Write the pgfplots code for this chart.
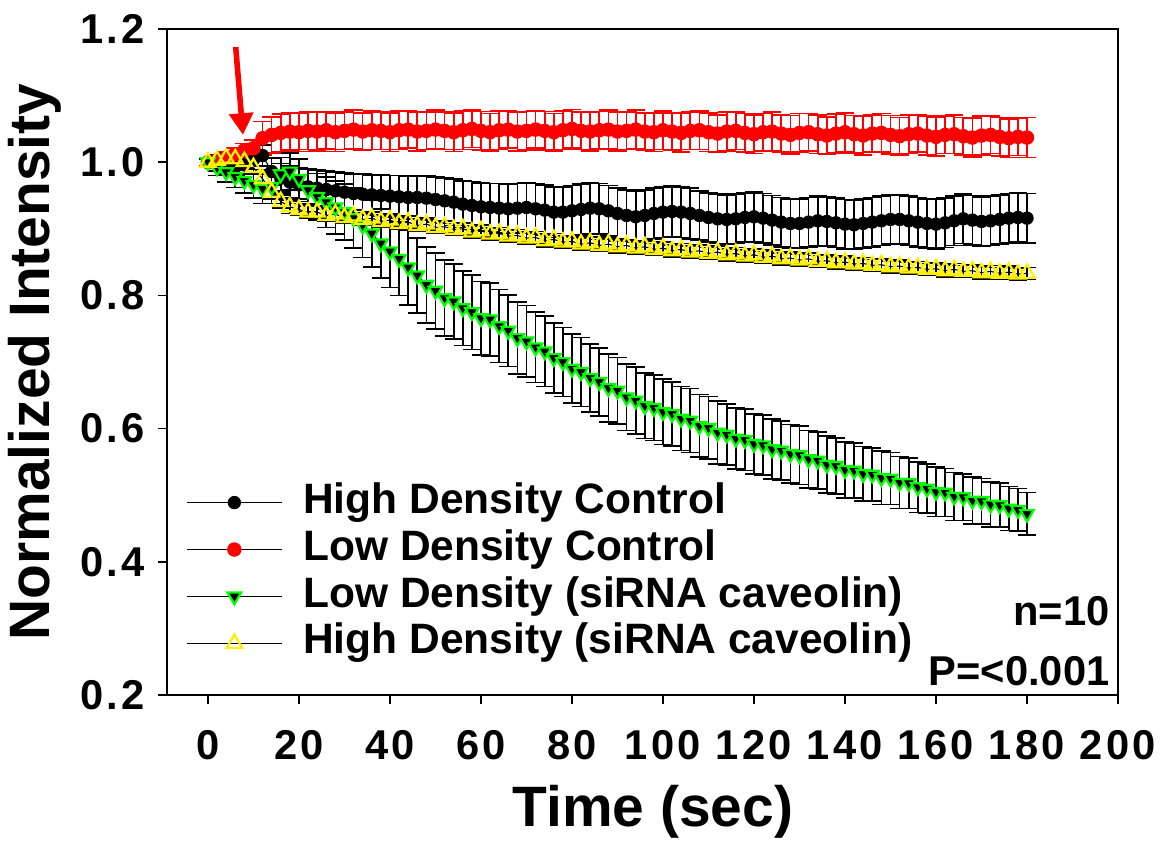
\documentclass[border=0pt]{standalone}
\usepackage{pgfplots}
\pgfplotsset{compat=1.18}
\usepackage{pgfplotstable}
\usepackage{fontspec}
\setmainfont{Liberation Sans}
\newfontfamily\tickfont[LetterSpace=8]{Liberation Sans}
\usetikzlibrary{arrows.meta}

% t, high density control, low density control, low density siRNA, high density siRNA (value + error)
\pgfplotstableread{
t   hdc   hdce  ldc   ldce  lds   ldse  hds   hdse
0   1.000 0.005 1.000 0.005 1.000 0.005 1.000 0.005
2   0.997 0.010 1.003 0.008 0.992 0.012 1.003 0.008
4   0.994 0.012 1.007 0.008 0.985 0.015 1.006 0.008
6   0.993 0.013 1.012 0.009 0.978 0.016 1.005 0.008
8   0.996 0.014 1.018 0.010 0.972 0.018 1.001 0.009
10  1.004 0.015 1.021 0.012 0.966 0.020 0.992 0.010
12  1.010 0.016 1.036 0.025 0.960 0.022 0.975 0.010
14  0.986 0.020 1.041 0.027 0.963 0.025 0.955 0.010
16  0.976 0.022 1.044 0.028 0.982 0.025 0.941 0.010
18  0.970 0.024 1.046 0.028 0.986 0.028 0.933 0.010
20  0.966 0.025 1.045 0.029 0.975 0.030 0.929 0.009
22  0.963 0.026 1.047 0.028 0.958 0.032 0.925 0.009
24  0.961 0.027 1.046 0.029 0.948 0.035 0.925 0.009
26  0.959 0.028 1.048 0.028 0.940 0.038 0.920 0.009
28  0.957 0.028 1.045 0.029 0.932 0.040 0.922 0.009
30  0.955 0.029 1.047 0.028 0.925 0.042 0.917 0.009
32  0.953 0.029 1.049 0.029 0.916 0.045 0.919 0.009
34  0.952 0.030 1.046 0.028 0.905 0.048 0.914 0.009
36  0.951 0.030 1.048 0.029 0.893 0.050 0.916 0.009
38  0.950 0.031 1.047 0.028 0.878 0.052 0.911 0.009
40  0.949 0.031 1.045 0.029 0.866 0.054 0.913 0.009
42  0.948 0.032 1.048 0.029 0.855 0.055 0.908 0.009
44  0.947 0.032 1.049 0.028 0.842 0.056 0.910 0.009
46  0.947 0.033 1.046 0.029 0.830 0.056 0.905 0.009
48  0.946 0.033 1.047 0.028 0.816 0.057 0.907 0.009
50  0.944 0.034 1.049 0.029 0.807 0.057 0.902 0.009
52  0.942 0.034 1.047 0.028 0.796 0.057 0.903 0.009
54  0.940 0.035 1.045 0.029 0.791 0.056 0.899 0.009
56  0.937 0.035 1.048 0.029 0.781 0.056 0.900 0.009
58  0.935 0.036 1.050 0.028 0.775 0.056 0.895 0.009
60  0.933 0.036 1.047 0.029 0.766 0.055 0.897 0.009
62  0.932 0.036 1.045 0.028 0.764 0.055 0.892 0.009
64  0.931 0.037 1.048 0.029 0.754 0.055 0.893 0.009
66  0.930 0.037 1.049 0.028 0.747 0.054 0.889 0.009
68  0.931 0.037 1.046 0.029 0.736 0.054 0.890 0.009
70  0.932 0.037 1.047 0.029 0.731 0.054 0.886 0.009
72  0.930 0.038 1.049 0.028 0.722 0.053 0.887 0.009
74  0.928 0.038 1.047 0.029 0.716 0.053 0.882 0.009
76  0.925 0.038 1.045 0.028 0.706 0.053 0.884 0.009
78  0.925 0.038 1.048 0.029 0.700 0.052 0.880 0.009
80  0.927 0.038 1.050 0.029 0.690 0.052 0.881 0.009
82  0.929 0.038 1.047 0.028 0.685 0.052 0.877 0.009
84  0.931 0.038 1.046 0.029 0.676 0.051 0.879 0.009
86  0.930 0.038 1.048 0.028 0.670 0.051 0.875 0.009
88  0.927 0.038 1.049 0.029 0.661 0.051 0.877 0.009
90  0.923 0.038 1.046 0.029 0.657 0.050 0.873 0.009
92  0.920 0.038 1.047 0.028 0.647 0.050 0.875 0.009
94  0.918 0.038 1.049 0.029 0.642 0.050 0.871 0.009
96  0.920 0.038 1.046 0.028 0.634 0.049 0.873 0.009
98  0.923 0.038 1.045 0.029 0.631 0.049 0.869 0.009
100 0.925 0.038 1.048 0.029 0.625 0.049 0.871 0.009
102 0.926 0.038 1.046 0.028 0.622 0.048 0.867 0.009
104 0.925 0.038 1.044 0.029 0.615 0.048 0.869 0.009
106 0.923 0.038 1.047 0.028 0.612 0.048 0.865 0.009
108 0.920 0.037 1.048 0.029 0.604 0.047 0.867 0.009
110 0.917 0.037 1.045 0.029 0.601 0.047 0.863 0.009
112 0.915 0.037 1.043 0.028 0.594 0.047 0.865 0.009
114 0.914 0.037 1.046 0.029 0.591 0.046 0.861 0.009
116 0.915 0.037 1.047 0.028 0.585 0.046 0.863 0.009
118 0.917 0.037 1.044 0.029 0.583 0.046 0.859 0.009
120 0.918 0.037 1.042 0.029 0.577 0.045 0.861 0.009
122 0.916 0.037 1.045 0.028 0.575 0.045 0.857 0.009
124 0.913 0.037 1.046 0.029 0.569 0.045 0.859 0.009
126 0.910 0.037 1.043 0.028 0.567 0.044 0.855 0.009
128 0.908 0.037 1.041 0.029 0.562 0.044 0.856 0.009
130 0.908 0.037 1.044 0.029 0.560 0.044 0.853 0.009
132 0.910 0.037 1.045 0.028 0.554 0.043 0.855 0.009
134 0.912 0.037 1.042 0.029 0.552 0.043 0.851 0.009
136 0.911 0.037 1.040 0.028 0.546 0.043 0.852 0.009
138 0.909 0.037 1.043 0.029 0.544 0.042 0.849 0.009
140 0.907 0.037 1.045 0.029 0.538 0.042 0.850 0.009
142 0.906 0.037 1.042 0.028 0.537 0.041 0.847 0.009
144 0.908 0.037 1.040 0.029 0.532 0.041 0.848 0.009
146 0.910 0.037 1.043 0.028 0.531 0.040 0.845 0.009
148 0.912 0.037 1.044 0.029 0.526 0.040 0.846 0.009
150 0.914 0.037 1.041 0.029 0.525 0.039 0.843 0.009
152 0.914 0.037 1.039 0.028 0.519 0.039 0.844 0.009
154 0.912 0.037 1.042 0.029 0.518 0.038 0.841 0.009
156 0.910 0.037 1.043 0.028 0.512 0.038 0.842 0.009
158 0.908 0.037 1.040 0.029 0.510 0.037 0.839 0.009
160 0.907 0.037 1.038 0.029 0.505 0.037 0.840 0.009
162 0.909 0.037 1.041 0.028 0.504 0.036 0.837 0.009
164 0.912 0.037 1.042 0.029 0.498 0.036 0.839 0.009
166 0.915 0.037 1.039 0.028 0.497 0.035 0.836 0.009
168 0.913 0.037 1.037 0.029 0.492 0.035 0.837 0.009
170 0.911 0.037 1.040 0.029 0.491 0.034 0.834 0.009
172 0.912 0.037 1.041 0.028 0.486 0.034 0.836 0.009
174 0.914 0.037 1.038 0.029 0.485 0.033 0.833 0.009
176 0.916 0.037 1.036 0.029 0.480 0.033 0.835 0.009
178 0.917 0.037 1.038 0.028 0.478 0.032 0.832 0.009
180 0.916 0.037 1.037 0.030 0.472 0.032 0.833 0.009
}\data

\begin{document}
\begin{tikzpicture}
\path[use as bounding box] (-60.12pt,-52.2pt) rectangle (359.28pt,250.2pt);
\begin{axis}[
    scale only axis,
    width=342.36pt, height=239.76pt,
    xmin=-9, xmax=200, ymin=0.2, ymax=1.2,
    xtick={0,20,...,200},
    ytick={0.2,0.4,0.6,0.8,1.0,1.2},
    yticklabel style={xshift=-1.2pt, /pgf/number format/fixed,
        /pgf/number format/fixed zerofill, /pgf/number format/precision=1},
    /pgf/number format/assume math mode=true,
    tick label style={font=\tickfont\bfseries\fontsize{15}{17}\selectfont},
    xticklabel style={yshift=-6pt},
    tick align=outside, xtick pos=bottom, ytick pos=left,
    major tick length=3.3pt,
    axis line style={line width=0.8pt},
    tick style={line width=0.6pt, black},
    xlabel={Time (sec)}, ylabel={Normalized Intensity},
    label style={font=\bfseries\fontsize{20.5}{24}\selectfont},
    xlabel style={at={(axis description cs:0.511,-0.197)}, anchor=base},
    ylabel style={at={(axis description cs:-0.139,0.5)}, anchor=center},
    legend cell align=left,
    legend style={draw=none, fill=none, inner sep=0pt,
        at={(axis description cs:0.02,0.325)}, anchor=north west,
        font=\bfseries\fontsize{15.3}{17}\selectfont, row sep=0pt,
        nodes={text height=10.6pt, text depth=3pt, inner ysep=1.65pt, inner xsep=3pt},
        /tikz/every odd column/.style={column sep=4.6pt}},
    legend image code/.code={\draw[mark repeat=2,mark phase=2] plot coordinates {(0pt,0pt) (17pt,0pt) (34pt,0pt)};},
    error bars/error mark options={rotate=90, black, mark size=3.3pt, line width=0.6pt},
]

\addplot[black, line width=0.4pt, mark=*, mark size=2.2pt, mark options={fill=black, draw=black},
    error bars/.cd, y dir=both, y explicit,
    error bar style={black, line width=0.6pt}]
    table[x=t, y=hdc, y error=hdce] {\data};
\addlegendentry{High Density Control}

\addplot[black, line width=0.4pt, mark=*, mark size=2.4pt, mark options={fill=red, draw=red},
    error bars/.cd, y dir=both, y explicit,
    error bar style={red, line width=0.6pt},
    error mark options={rotate=90, red, mark size=3.3pt, line width=0.6pt}]
    table[x=t, y=ldc, y error=ldce] {\data};
\addlegendentry{Low Density Control}

\addplot[black, line width=0.4pt, mark=triangle*, mark size=2.8pt,
    mark options={rotate=180, fill=black, draw=green, line width=0.8pt},
    error bars/.cd, y dir=both, y explicit,
    error bar style={black, line width=0.6pt}]
    table[x=t, y=lds, y error=ldse] {\data};
\addlegendentry{Low Density (siRNA caveolin)}

\addplot[black, line width=0.4pt, mark=triangle, mark size=3.2pt,
    mark options={draw=yellow, line width=0.8pt},
    error bars/.cd, y dir=both, y explicit,
    error bar style={black, line width=0.6pt}]
    table[x=t, y=hds, y error=hdse] {\data};
\addlegendentry{High Density (siRNA caveolin)}

\draw[red, line width=2pt, -{Triangle[width=8.4pt,length=7.8pt]}]
    (axis cs:6.1,1.173) -- (axis cs:7.7,1.041);

\node[anchor=base east, inner sep=0pt, font=\bfseries\fontsize{15}{17}\selectfont]
    at (axis description cs:0.9916,0.105) {n=10};
\node[anchor=base east, inner sep=0pt, font=\bfseries\fontsize{15}{17}\selectfont]
    at (axis description cs:0.9916,0.015) {P=<0.001};
\end{axis}
\end{tikzpicture}
\end{document}
